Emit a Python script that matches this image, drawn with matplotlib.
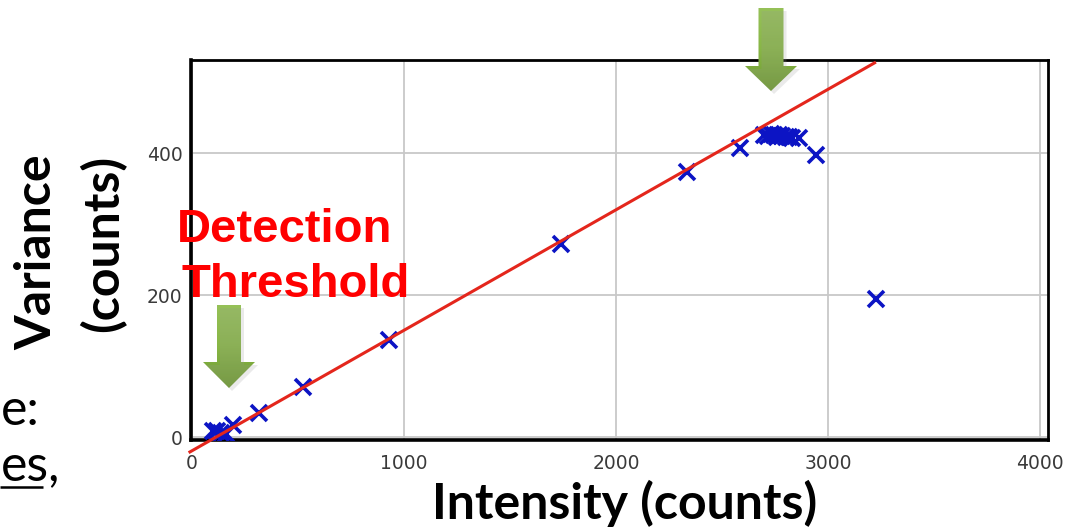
import numpy as np
import matplotlib.pyplot as plt
from matplotlib.patches import Polygon
from matplotlib.colors import LinearSegmentedColormap

# measured pixels: mean intensity vs variance
intensity = [100, 118, 135, 160, 195, 315, 525, 930, 1740, 2335, 2585,
             2700, 2715, 2730, 2745, 2760, 2770, 2785, 2800, 2815, 2830,
             2865, 2945, 3225]
variance = [8, 9, 6, 4, 17, 34, 70, 137, 272, 373, 407,
            426, 424, 427, 425, 423, 426, 424, 422, 423, 421,
            421, 397, 195]

# linear fit (variance = gain * intensity + offset)
fit_x = [-10, 3220]
fit_y = [-21, 527]

x_ticks = [0, 1000, 2000, 3000, 4000]
y_ticks = [0, 200, 400]

W, H = 1076, 529
fig = plt.figure(figsize=(W / 100, H / 100), dpi=100)
fig.patch.set_facecolor('white')

ax = fig.add_axes([191 / W, 1 - 440 / H, (1048 - 191) / W, (440 - 60) / H])
ax.set_xlim(-5, 4038)
ax.set_ylim(-4.2, 531)
ax.set_xticks(x_ticks)
ax.set_yticks(y_ticks)
ax.grid(True, color='#c8c8c8', lw=1.3)
ax.set_axisbelow(True)
ax.tick_params(length=0, labelsize=13.5, labelcolor='#3a3a3a')
ax.tick_params(axis='x', pad=10)
ax.tick_params(axis='y', pad=6)
for s in ax.spines.values():
    s.set_linewidth(2.0)
    s.set_color('black')
ax.spines['left'].set_linewidth(2.6)
ax.spines['bottom'].set_linewidth(2.6)

ax.plot(intensity, variance, ls='none', marker='x', ms=11, mew=2.6,
        color='#0c14c4', zorder=3)
ax.plot(fit_x, fit_y, color='#e4261c', lw=2.2, zorder=4, clip_on=False)

# overlay in pixel coordinates for the slide annotations
ov = fig.add_axes([0, 0, 1, 1], zorder=10)
ov.set_xlim(0, W)
ov.set_ylim(H, 0)
ov.axis('off')
ov.patch.set_visible(False)

bold = dict(fontsize=36, fontweight='bold', family=['Lato', 'DejaVu Sans'])
ov.text(625, 503, 'Intensity (counts)', ha='center', va='center', **bold)
ov.text(37, 252, 'Variance', ha='center', va='center', rotation=90, **bold)
ov.text(103, 243, '(counts)', ha='center', va='center', rotation=90, **bold)

ov.text(285, 242, 'Detection', ha='center', va='baseline', color='#ff0000',
        fontsize=34, fontweight='bold', family=['Liberation Sans'])
ov.text(296, 297, 'Threshold', ha='center', va='baseline', color='#ff0000',
        fontsize=34, fontweight='bold', family=['Liberation Sans'])

# bullet text fragments at the left edge
ov.text(1, 425, 'e:', ha='left', va='baseline', fontsize=36,
        family=['Lato', 'DejaVu Sans'])
ov.text(1, 480, 'es,', ha='left', va='baseline', fontsize=36,
        family=['Lato', 'DejaVu Sans'])
ov.plot([0, 43], [487, 487], color='black', lw=1.8, solid_capstyle='butt')

green = LinearSegmentedColormap.from_list('g', ['#6e9a30', '#88b646', '#96c158'])


def down_arrow(cx, top, tip, shaft_w, head_w, head_base):
    pts = [(cx - shaft_w / 2, top), (cx + shaft_w / 2, top),
           (cx + shaft_w / 2, head_base), (cx + head_w / 2, head_base),
           (cx, tip), (cx - head_w / 2, head_base),
           (cx - shaft_w / 2, head_base)]
    shadow = Polygon([(x + 3, y + 3) for x, y in pts], closed=True,
                     facecolor='#999999', edgecolor='none', alpha=0.2)
    ov.add_patch(shadow)
    poly = Polygon(pts, closed=True, facecolor='none', edgecolor='none')
    ov.add_patch(poly)
    grad = np.linspace(0, 1, 128).reshape(-1, 1)
    im = ov.imshow(grad, cmap=green, aspect='auto', origin='lower',
                   extent=(cx - head_w / 2, cx + head_w / 2, tip, top),
                   interpolation='bilinear')
    im.set_clip_path(poly)


down_arrow(771, 8, 91, 25, 52, 66)
down_arrow(229, 305, 388, 24, 52, 362)
ov.set_xlim(0, W)
ov.set_ylim(H, 0)

fig.savefig('out.png', dpi=100)
